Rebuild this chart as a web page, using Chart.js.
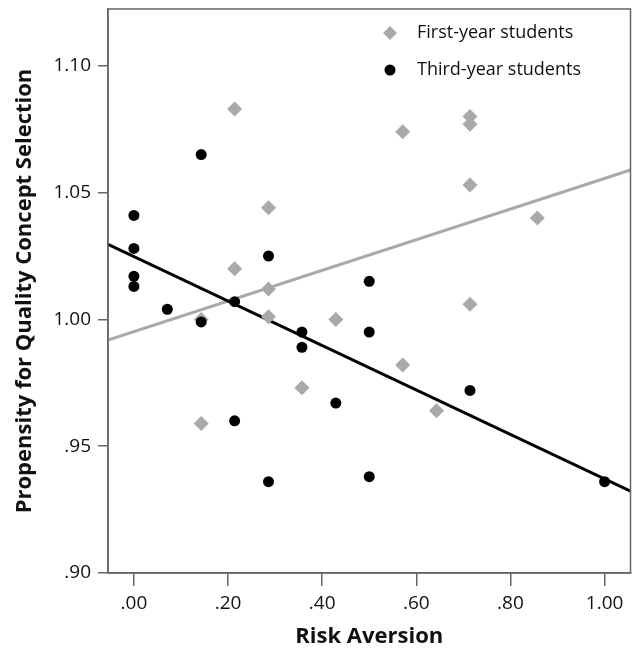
<!DOCTYPE html>
<html>
<head>
<meta charset="utf-8">
<script src="https://cdn.jsdelivr.net/npm/chart.js@4/dist/chart.umd.min.js"></script>
<style>
  html, body { margin: 0; padding: 0; background: #fff; }
  #wrap { width: 638px; height: 650px; }
</style>
</head>
<body>
<div id="wrap"><canvas id="myChart" width="638" height="650"></canvas></div>
<script>
    // data
    let seriesNames = ['First-year students', 'Third-year students']

    let firstX = [0.143, 0.143, 0.214, 0.214, 0.286, 0.286, 0.286, 0.357, 0.429, 0.571, 0.571, 0.643, 0.714, 0.714, 0.714, 0.714, 0.857]
    let firstY = [1.000, 0.959, 1.083, 1.020, 1.044, 1.012, 1.001, 0.973, 1.000, 1.074, 0.982, 0.964, 1.080, 1.077, 1.053, 1.006, 1.040]

    let thirdX = [0, 0, 0, 0, 0.071, 0.143, 0.143, 0.214, 0.214, 0.286, 0.286, 0.357, 0.357, 0.429, 0.5, 0.5, 0.5, 0.714, 1.0]
    let thirdY = [1.041, 1.028, 1.017, 1.013, 1.004, 1.065, 0.999, 1.007, 0.960, 1.025, 0.936, 0.995, 0.989, 0.967, 1.015, 0.995, 0.938, 0.972, 0.936]

    // fit lines: [intercept, slope]
    let firstFit = [0.9952, 0.0604]
    let thirdFit = [1.0248, -0.0877]

    let xTicks = [0, 0.2, 0.4, 0.6, 0.8, 1.0]
    let yTicks = [0.90, 0.95, 1.00, 1.05, 1.10]

    let xMin = -0.055, xMax = 1.055
    let yMin = 0.90, yMax = 1.1224

    let grey = '#a9a9a9'
    let frameColor = '#666'
    let font = '"Open Sans", "Noto Sans", sans-serif'

    function toPoints(xs, ys) {
        return xs.map(function (x, i) { return {x: x, y: ys[i]} })
    }
    function fitLine(fit) {
        return [xMin, xMax].map(function (x) { return {x: x, y: fit[0] + fit[1] * x} })
    }
    function fmt(v) {
        return v.toFixed(2).replace(/^0/, '')
    }

    //frame round the plot + legend inside it
    let framePlugin = {
        id: 'frame',
        afterDraw: function (chart) {
            let c = chart.ctx, a = chart.chartArea
            c.save()
            c.strokeStyle = frameColor
            c.lineWidth = 1.5
            c.strokeRect(a.left, a.top, a.right - a.left, a.bottom - a.top)

            let items = [
                {style: 'rectRot', r: 7, color: grey, y: 33},
                {style: 'circle', r: 5.5, color: '#000', y: 70}
            ]
            c.font = '18px ' + font
            c.textBaseline = 'middle'
            items.forEach(function (it, i) {
                c.fillStyle = it.color
                Chart.helpers.drawPoint(c, {pointStyle: it.style, radius: it.r, borderWidth: 0}, 390, it.y)
                c.fillStyle = '#111'
                c.fillText(seriesNames[i], 417, it.y)
            })
            c.restore()
        }
    }

    var ctx = document.getElementById('myChart').getContext('2d');
    var myChart = new Chart(ctx, {
        type: 'scatter',
        data: {
            datasets: [{
                label: seriesNames[1],
                data: toPoints(thirdX, thirdY),
                pointStyle: 'circle',
                pointRadius: 5.5,
                backgroundColor: '#000',
                borderWidth: 0,
                order: 0
            }, {
                label: seriesNames[0],
                data: toPoints(firstX, firstY),
                pointStyle: 'rectRot',
                pointRadius: 7.5,
                backgroundColor: grey,
                borderWidth: 0,
                order: 1
            }, {
                type: 'line',
                label: 'third fit',
                data: fitLine(thirdFit),
                borderColor: '#000',
                borderWidth: 3,
                pointRadius: 0,
                order: 2
            }, {
                type: 'line',
                label: 'first fit',
                data: fitLine(firstFit),
                borderColor: grey,
                borderWidth: 3,
                pointRadius: 0,
                order: 3
            }]
        },
        options: {
            responsive: false,
            animation: false,
            events: [],
            layout: { padding: { top: 9, right: 5, left: 0, bottom: 0 } },
            plugins: {
                legend: { display: false },
                tooltip: { enabled: false }
            },
            scales: {
                x: {
                    type: 'linear',
                    min: xMin,
                    max: xMax,
                    afterBuildTicks: function (s) { s.ticks = xTicks.map(function (v) { return {value: v} }) },
                    afterFit: function (s) { s.height = 77; s.paddingLeft = 0; s.paddingRight = 0 },
                    grid: { drawOnChartArea: false, tickLength: 13, color: frameColor, lineWidth: 1.5 },
                    border: { color: frameColor, width: 1.5 },
                    ticks: {
                        padding: 6,
                        color: '#111',
                        font: { family: font, size: 19 },
                        callback: function (v) { return fmt(v) }
                    },
                    title: {
                        display: true,
                        text: 'Risk Aversion',
                        color: '#111',
                        font: { family: font, size: 22, weight: 'bold' },
                        padding: { top: 0, bottom: 0 }
                    }
                },
                y: {
                    type: 'linear',
                    min: yMin,
                    max: yMax,
                    afterBuildTicks: function (s) { s.ticks = yTicks.map(function (v) { return {value: v} }) },
                    afterFit: function (s) { s.width = 108; s.paddingTop = 0; s.paddingBottom = 0 },
                    grid: { drawOnChartArea: false, tickLength: 10, color: frameColor, lineWidth: 1.5 },
                    border: { color: frameColor, width: 1.5 },
                    ticks: {
                        padding: 7,
                        color: '#111',
                        font: { family: font, size: 19 },
                        callback: function (v) { return fmt(v) }
                    },
                    title: {
                        display: true,
                        text: 'Propensity for Quality Concept Selection',
                        color: '#111',
                        font: { family: font, size: 22, weight: 'bold' },
                        padding: { top: 12, bottom: 0 }
                    }
                }
            }
        },
        plugins: [framePlugin]
    });
</script>
</body>
</html>
